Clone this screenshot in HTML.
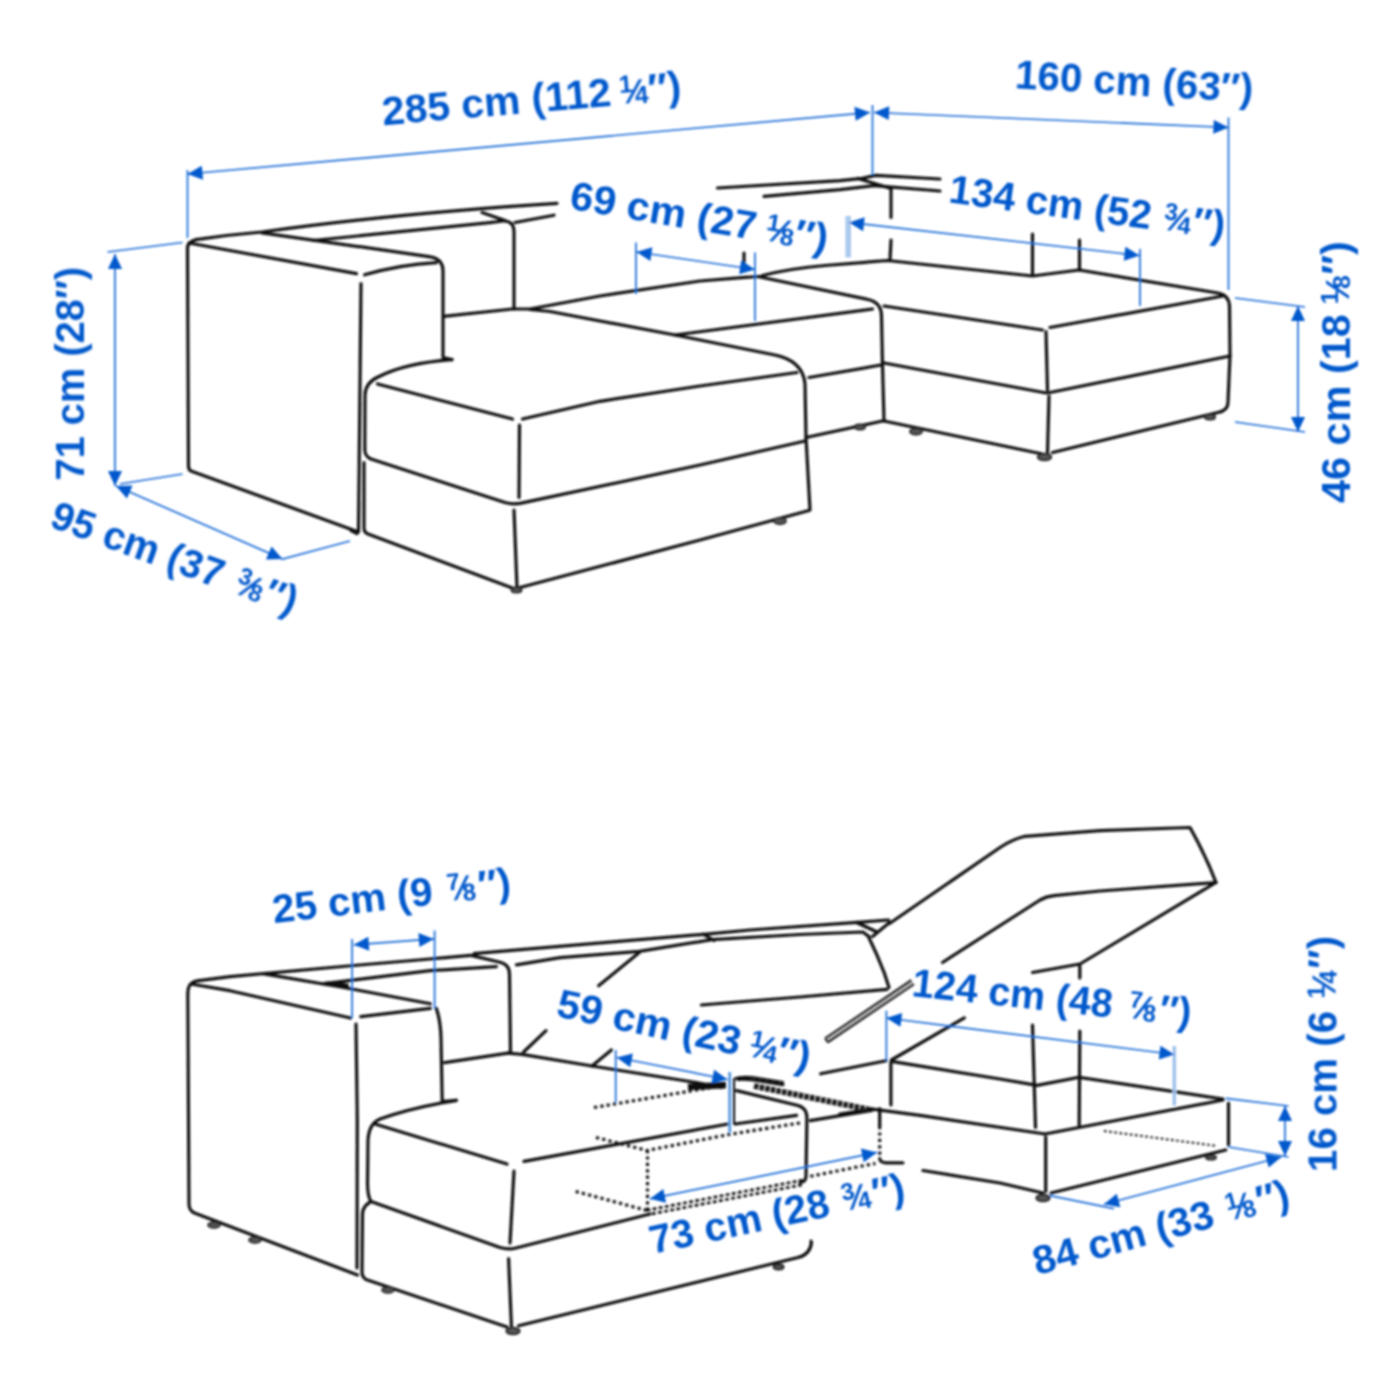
<!DOCTYPE html>
<html>
<head>
<meta charset="utf-8">
<title>Sofa dimensions</title>
<style>
html,body{margin:0;padding:0;background:#fff;}
body{width:1400px;height:1400px;overflow:hidden;}
svg{display:block;}
.k{fill:none;stroke:#111;stroke-width:3.2;stroke-linecap:round;stroke-linejoin:round;}
.kd{fill:none;stroke:#111;stroke-width:3.1;stroke-linecap:butt;stroke-dasharray:3.2 3.2;}
.kh{fill:none;stroke:#1a1a1a;stroke-width:5.8;stroke-linecap:butt;stroke-dasharray:4.6 1.1;}
.ft{fill:#555;stroke:#222;stroke-width:1.8;}
.b{fill:none;stroke:#1c6ad6;stroke-width:1.7;stroke-linecap:butt;}
.bl{fill:none;stroke:#9cc0ea;stroke-width:3.4;stroke-linecap:butt;}
.a{fill:#0058cc;stroke:none;}
text{font-family:"Liberation Sans",sans-serif;font-weight:bold;font-size:40px;fill:#0058cc;}
</style>
</head>
<body>
<svg width="1400" height="1400" viewBox="0 0 1400 1400">
<defs>
<filter id="soft" filterUnits="userSpaceOnUse" x="0" y="0" width="1400" height="1400"><feGaussianBlur stdDeviation="0.8"/></filter>
<path id="ah" d="M0,0 L15,-7 L15,7 Z"/>
</defs>
<rect width="1400" height="1400" fill="#fff"/>
<g filter="url(#soft)">

<!-- ================= TOP DRAWING : BLACK ================= -->
<g class="k" id="top-black">
<!-- arm outer panel -->
<path d="M361,283.5 L358.5,532 L191,471 Q188.5,470 188.5,466 L187.5,248 Q187.5,242 196,239.6 Q230,234.6 262,232 Q390,214 557,203.4"/>
<path d="M189,243 L356.5,273.6"/>
<path d="M357,533.5 L351,530.5"/>
<!-- arm top inner edge, corner and inner vertical -->
<path d="M262,232.8 L429,256.6 Q443,258.5 443,271 L443,357.5 L452,359.6"/>
<path d="M364.6,274.8 Q400,264.5 436.5,262.6"/>
<!-- back cushion 1 -->
<path d="M313,240.5 L490,222.6 L503,221 Q514,220.5 514,232 L514,309"/>
<path d="M482,212.6 L505,220.5"/>
<path d="M515,222.5 L554,215.2"/>
<!-- back cushion right part -->
<path d="M717.5,188 L840,180.6 L862,178.3 L876,175.4 L940,179"/>
<path d="M764,196.4 L840,189.6 L874,185.6 L940,191"/>
<path d="M858,178.5 L891,188.5"/>
<path d="M891,189 L891,217.5"/>
<path d="M891,240 L890,260"/>
<!-- seat / back junction and middle seat rear edge -->
<path d="M443.5,316.3 L512.5,309 L530,309 L600,296 L700,281 L745,277.3 L760,276.5"/>
<!-- chaise cushion top -->
<path d="M452,359.6 Q405,363 378,377 Q365.5,382.5 365,395 L364.8,450 Q365,456.5 371,459 L505,502.5 Q512,504.6 520,503.4 L700,465 L805,441"/>
<path d="M377.5,384 L512.5,419"/>
<path d="M522.5,419 L600,401.3 L700,386 L797,372.5"/>
<path d="M530,309.5 L550,311.5 L675,335 L775,355 Q803,361 805,384 L806,437.5 L810,510"/>
<path d="M519.5,425 L519,497.5"/>
<!-- chaise base -->
<path d="M364,462.5 L364,528 Q364,532.5 368,534 L515,589"/>
<path d="M520,587.5 L700,540 L809,510.5"/>
<path d="M514,510 L517,587.5"/>
<!-- middle seat -->
<path d="M675,335 L872.5,309"/>
<path d="M760,277 L868,299.5 Q881.5,302.5 881.5,316 L882.5,365 L884,421"/>
<path d="M809,377.5 L881,365"/>
<path d="M806,437.5 L882.5,421"/>
<!-- ottoman -->
<path d="M762.5,275.5 Q790,268.5 825,265.5 L887.5,260.5 L1032.5,276 L1079,270 L1218,293 Q1229,295 1229.5,306 L1230,355 L1228,402 Q1228,409.5 1221,411.5"/>
<path d="M1032.5,234 L1032.5,275"/>
<path d="M1079.5,240 L1079.5,270"/>
<path d="M884,306 L1042.5,330"/>
<path d="M1050,327.5 L1223,296"/>
<path d="M1046,331.5 L1047.5,390"/>
<path d="M1049,396 L1047.5,452.5"/>
<path d="M884,363 L1045,392.8 L1050,392.5 L1230,356"/>
<path d="M884,421 L1042.5,454"/>
<path d="M1052.5,452.5 L1222,411.5"/>
<path d="M744,253 L744,263"/>
</g>
<g class="ft">
<ellipse cx="516.5" cy="590" rx="5.1" ry="2.7"/>
<ellipse cx="780" cy="521" rx="6.0" ry="3.1"/>
<ellipse cx="860" cy="427" rx="5.1" ry="2.5"/>
<ellipse cx="916" cy="431.5" rx="6.0" ry="3.1"/>
<ellipse cx="1044.5" cy="457" rx="6.8" ry="3.4"/>
<ellipse cx="1210" cy="417" rx="5.1" ry="2.7"/>
</g>

<!-- ================= TOP DRAWING : BLUE ================= -->
<g id="top-blue">
<path class="b" d="M187.5,170 V238 M187.5,174 L870,112.5 M872.5,105 V175 M874,112.5 L1228.5,127.5 M1228.5,117.5 V290"/>
<path class="b" d="M636,242.5 V294 M755,252.5 V321 M636.5,252 L755,269.5"/>
<path class="b" d="M1140,249 V306 M849,222.5 L1139.5,255.5"/>
<path class="bl" d="M848.2,216 V257.5" style="stroke:#a8c8ee;stroke-width:5.5"/>
<path class="b" d="M1235,298 L1305,307 M1235,422 L1305,432 M1298,306 V432"/>
<path class="b" d="M107.5,252 L182.5,242.5 M120,484 L182.5,474 M115,254 V486"/>
<path class="b" d="M116,486 L282.5,559 L350,541"/>
</g>
<g class="a" id="top-arrows">
<use href="#ah" transform="translate(187.5,174) rotate(-5.15)"/>
<use href="#ah" transform="translate(870,112.5) rotate(174.85)"/>
<use href="#ah" transform="translate(874,112.5) rotate(2.4)"/>
<use href="#ah" transform="translate(1228.5,127.5) rotate(182.4)"/>
<use href="#ah" transform="translate(636.5,252) rotate(8.4)"/>
<use href="#ah" transform="translate(755,269.5) rotate(188.4)"/>
<use href="#ah" transform="translate(849,222.5) rotate(6.5)"/>
<use href="#ah" transform="translate(1139.5,255.5) rotate(186.5)"/>
<use href="#ah" transform="translate(1298,306) rotate(90)"/>
<use href="#ah" transform="translate(1298,432) rotate(-90)"/>
<use href="#ah" transform="translate(115,254) rotate(90)"/>
<use href="#ah" transform="translate(115,486) rotate(-90)"/>
<use href="#ah" transform="translate(116,486) rotate(23.7)"/>
<use href="#ah" transform="translate(282.5,559) rotate(203.7)"/>
</g>

<!-- ================= BOTTOM DRAWING : BLACK ================= -->
<g class="k" id="bot-black">
<!-- arm outer panel -->
<path d="M357,1268 L357.3,1120 L356,1024"/>
<path d="M470.5,955.4 L430,959 L348,966 L230,976.6 L197,980.8 Q188,982.5 187.8,993 L189,1204 Q189,1210.5 194.5,1213 L357.5,1275"/>
<path d="M191,984 L230,990.7 L350.5,1018"/>
<path d="M264,973.8 L341,987 L430.4,1003.8"/>
<path d="M324,983.6 L430,970.7 L496.4,966.6"/>
<path d="M327,983.6 L347,985.5" style="stroke-width:4"/>
<path d="M360.8,1016.7 L430.4,1008.4"/>
<path d="M436.3,1008.4 Q440.5,1020 441,1038 L442.2,1101.5 L456.3,1100.3"/>
<path d="M444.5,1062.6 L508,1053.2"/>
<!-- back cushion 1 (arm side) -->
<path d="M472,955.6 L499,962 Q509.4,964 509.5,974 L510.5,1052"/>
<path d="M474,953.6 L500,951.4 L703.6,934.3 L750,930 L857,922.3 L888.6,920"/>
<path d="M516.4,964.8 L560,957.7 L639.3,951.4 L712,939.6 L800,934.5 L862.9,932 L869,936.6"/>
<path d="M703.6,934.3 L714,940.5"/>
<!-- raised cushion corner -->
<path d="M857,922.6 L876,931.5" style="stroke-width:3.4"/>
<path d="M889.5,922.5 L872.5,936.6"/>
<path d="M868.6,937 Q877,954 884.3,973 L889,987.5"/>
<path d="M701.4,1005 L750,1001 L800,997 L887,989.3"/>
<!-- diagonals of folded back -->
<path d="M639.3,952.5 L598.6,985.7"/>
<path d="M546,1030.7 L523.6,1052"/>
<path d="M611.4,1050 L592,1066"/>
<!-- seat rear edge -->
<path d="M508,1053.2 L522,1054.4 L592,1066 L693,1082 L722,1087.5"/>
<!-- chaise cushion -->
<path d="M456.3,1100.3 Q410,1108 380,1119 Q369,1123.5 368,1140 L367.5,1183 Q367.5,1196 371,1201.5 L500,1247.5 Q508,1250 516,1248 L650,1214"/>
<path d="M375,1124 L507,1164"/>
<path d="M524,1161.4 L728,1124"/>
<path d="M735,1124 L796.6,1115.4"/>
<path d="M514,1171 L510,1243"/>
<!-- base -->
<path d="M369.5,1202.5 Q362.6,1206.5 362.5,1214 L362,1272 Q362,1277 366,1279.5 L507,1327"/>
<path d="M508.6,1258.6 L511.4,1325.7"/>
<path d="M518.6,1325.7 L798,1257.5 Q810,1254.5 811.4,1243"/>
<!-- hinge hardware / chaise right edge -->
<path d="M734,1124 L734,1079 Q740,1076 752,1077.2 L783,1082" style="stroke-width:2.2"/>
<path d="M738,1079.5 Q748,1078.6 760,1081 L783,1084.6" style="stroke-width:3.2"/>
<path d="M736.6,1090.6 L797,1105.3 Q806.9,1107.5 806.9,1118 L806,1176 Q806,1182 800,1182.5"/>
<path d="M810.3,1120.6 L872,1110.3"/>
<path d="M840,1114.5 L872,1109.6" style="stroke-width:4"/>
<path d="M868.6,1108.6 L920,1115.4 L1045,1134"/>
<path d="M879.7,1108.6 L879.7,1125.7"/>
<path d="M879.7,1158.5 Q880,1162.5 886,1162.8 L902.9,1162.8"/>
<path d="M923,1170.5 L1000,1183 L1043,1193"/>
<path d="M811,1241 L811.4,1243"/>
<!-- storage box -->
<path d="M820.6,1073.8 L886,1060.7"/>
<path d="M891.4,1061.4 L1000,1079 L1037,1085.4 L1079,1077.3 L1223,1099"/>
<path d="M1045,1134 L1223,1100"/>
<path d="M890.9,1062.5 L890.9,1105"/>
<path d="M1228.5,1103 L1228.5,1145"/>
<path d="M1045.7,1137 L1045.7,1191.4"/>
<path d="M1051,1193 L1225.7,1150"/>
<path d="M1032.5,1025 L1035.5,1127.5"/>
<path d="M1079.8,1031 L1079.2,1125.5"/>
<path d="M1079.8,966 L1079.8,978"/>
<!-- lid -->
<path d="M889.5,923.5 L1000,847.5 Q1012,839.5 1025,836.3 L1100,830.6 L1190,827.5 Q1206,856 1216,882.5"/>
<path d="M942.5,962.5 L1040,900 Q1046,896.5 1054,895.6 L1100,891 L1216,882.5 L1080,964 L1032.5,972.5"/>
<path d="M891.4,1060 L964.3,1017.9"/>
</g>
<!-- hatched bands -->
<g id="bot-hatch">
<path d="M826.5,1040.3 L912.7,982.2" style="fill:none;stroke:#444;stroke-width:3.2;stroke-dasharray:1.3 1.7"/>
<path d="M825.1,1038.2 L911.3,980.1 M827.9,1042.4 L914.1,984.3 M825.1,1038.2 L827.9,1042.4" style="fill:none;stroke:#1a1a1a;stroke-width:1.9;stroke-linecap:butt"/>
<path class="kh" d="M754,1086 L868.6,1109.5"/>
<path class="k" d="M688,1087 L726,1085" style="stroke-width:6.5;stroke-linecap:butt"/>
</g>
<!-- dotted lines -->
<g id="bot-dots">
<path class="kd" d="M594,1107.5 L720,1086"/>
<path class="kd" d="M596,1137.5 L647,1150.5 L729.7,1134.3 L800,1123"/>
<path class="kd" d="M647.5,1150 L647.5,1212"/>
<path class="kd" d="M575.7,1191.4 L647,1210.5"/>
<path class="kd" d="M646.6,1210.3 L803,1180.1" style="stroke-width:2.7;stroke-dasharray:3.8 2.4"/>
<path class="kd" d="M647.4,1214.7 L803.8,1184.5" style="stroke-width:2.7;stroke-dasharray:3.8 2.4;stroke-dashoffset:1.5"/>
<path class="kd" d="M810.3,1176.3 L875.4,1163.4"/>
<path class="kd" d="M879.7,1126 L879.7,1158"/>
<path class="kd" d="M1104,1131 L1217.5,1146" style="stroke-width:2;stroke-dasharray:2.6 2.6"/>
<path class="kd" d="M734,1082 L734,1124" style="stroke-width:1.6;stroke-dasharray:5 2"/>
</g>
<g class="ft">
<ellipse cx="214" cy="1225" rx="6.0" ry="2.9"/>
<ellipse cx="255" cy="1240" rx="6.0" ry="2.9"/>
<ellipse cx="388" cy="1290" rx="6.0" ry="2.9"/>
<ellipse cx="513" cy="1331" rx="6.8" ry="3.4"/>
<ellipse cx="778.6" cy="1267" rx="5.1" ry="2.5"/>
<ellipse cx="1043" cy="1198" rx="6.8" ry="3.4"/>
<ellipse cx="1211" cy="1157.5" rx="5.1" ry="2.2"/>
</g>

<!-- ================= BOTTOM DRAWING : BLUE ================= -->
<g id="bot-blue">
<path class="b" d="M352.1,939 V1018 M434.6,930.6 V1008.4 M353.8,944.8 L433.9,938.9"/>
<path class="b" d="M615.7,1050 V1102.5 M616.8,1057.5 L727.5,1079.5"/>
<path class="bl" d="M729.7,1072 V1132.6" style="stroke:#5d9be0;stroke-width:3"/>
<path class="b" d="M650,1198.8 L877,1152.4"/>
<path class="b" d="M886.4,1010.7 V1060.7 M886.4,1018 L1174.5,1054.5"/>
<path class="bl" d="M1174.3,1046 V1105.5"/>
<path class="b" d="M1225.7,1098.3 L1288.6,1106 M1228.6,1147 L1288.6,1157 M1285,1106 V1156"/>
<path class="b" d="M1050,1195.7 L1114,1208.6 M1104,1204.3 L1281.4,1157"/>
</g>
<g class="a" id="bot-arrows">
<use href="#ah" transform="translate(353.8,944.8) rotate(-4.2)"/>
<use href="#ah" transform="translate(433.9,938.9) rotate(175.8)"/>
<use href="#ah" transform="translate(616.8,1057.5) rotate(11.2)"/>
<use href="#ah" transform="translate(727.5,1079.5) rotate(191.2)"/>
<use href="#ah" transform="translate(650,1198.8) rotate(-11.5)"/>
<use href="#ah" transform="translate(877,1152.4) rotate(168.5)"/>
<use href="#ah" transform="translate(886.4,1018) rotate(7.2)"/>
<use href="#ah" transform="translate(1174.5,1054.5) rotate(187.2)"/>
<use href="#ah" transform="translate(1285,1106) rotate(90)"/>
<use href="#ah" transform="translate(1285,1156) rotate(-90)"/>
<use href="#ah" transform="translate(1104,1204.3) rotate(-14.9)"/>
<use href="#ah" transform="translate(1281.4,1157) rotate(165.1)"/>
</g>
<g id="all-text">
<text transform="translate(383.2,125.4) rotate(-4.9) scale(1.0227,1)">285 cm (112 <tspan font-size="24" dy="-12" dx="-2.6">1</tspan><tspan font-size="34" dy="10.5" dx="-2.2">⁄</tspan><tspan font-size="24" dy="1.5" dx="-2.2">4</tspan><tspan dx="-0.1">″)</tspan></text>
<text transform="translate(1014.5,88.2) rotate(3.5) scale(1.0060,1)">160 cm (63″)</text>
<text transform="translate(568.5,208.5) rotate(9.6) scale(1.0330,1)">69 cm (27 <tspan font-size="24" dy="-12" dx="-1.6">1</tspan><tspan font-size="34" dy="10.5" dx="-2.2">⁄</tspan><tspan font-size="24" dy="1.5" dx="-2.2">8</tspan><tspan dx="0.3">″)</tspan></text>
<text transform="translate(947.7,202.3) rotate(7.6) scale(0.9969,1)">134 cm (52 <tspan font-size="24" dy="-12" dx="1.3">3</tspan><tspan font-size="34" dy="10.5" dx="-2.2">⁄</tspan><tspan font-size="24" dy="1.5" dx="-2.2">4</tspan><tspan dx="1.6">″)</tspan></text>
<text transform="translate(1350.0,503.0) rotate(-90) scale(1.0364,1)">46 cm (18 <tspan font-size="24" dy="-12" dx="-1.5">1</tspan><tspan font-size="34" dy="10.5" dx="-2.2">⁄</tspan><tspan font-size="24" dy="1.5" dx="-2.2">8</tspan><tspan dx="0.4">″)</tspan></text>
<text transform="translate(84.0,480.6) rotate(-90) scale(0.9953,1)">71 cm (28″)</text>
<text transform="translate(48.1,526.5) rotate(20) scale(0.9927,1)">95 cm (37 <tspan font-size="24" dy="-12" dx="4.4">3</tspan><tspan font-size="34" dy="10.5" dx="-2.2">⁄</tspan><tspan font-size="24" dy="1.5" dx="-2.2">8</tspan><tspan dx="2.9">″)</tspan></text>
<text transform="translate(274.0,923.2) rotate(-6.7) scale(1.0073,1)">25 cm (9 <tspan font-size="24" dy="-12" dx="3.7">7</tspan><tspan font-size="34" dy="10.5" dx="-2.2">⁄</tspan><tspan font-size="24" dy="1.5" dx="-2.2">8</tspan><tspan dx="2.6">″)</tspan></text>
<text transform="translate(555.0,1015.9) rotate(12.2) scale(1.0264,1)">59 cm (23 <tspan font-size="24" dy="-12" dx="-2.0">1</tspan><tspan font-size="34" dy="10.5" dx="-2.2">⁄</tspan><tspan font-size="24" dy="1.5" dx="-2.2">4</tspan><tspan dx="0.1">″)</tspan></text>
<text transform="translate(652.5,1254.1) rotate(-12.1) scale(1.0046,1)">73 cm (28 <tspan font-size="24" dy="-12" dx="2.9">3</tspan><tspan font-size="34" dy="10.5" dx="-2.2">⁄</tspan><tspan font-size="24" dy="1.5" dx="-2.2">4</tspan><tspan dx="2.2">″)</tspan></text>
<text transform="translate(911.1,995.9) rotate(6.15) scale(0.9846,1)">124 cm (48 <tspan font-size="24" dy="-12" dx="5.5">7</tspan><tspan font-size="34" dy="10.5" dx="-2.2">⁄</tspan><tspan font-size="24" dy="1.5" dx="-2.2">8</tspan><tspan dx="3.4">″)</tspan></text>
<text transform="translate(1336.5,1172.0) rotate(-90) scale(1.0065,1)">16 cm (6 <tspan font-size="24" dy="-12" dx="1.3">1</tspan><tspan font-size="34" dy="10.5" dx="-2.2">⁄</tspan><tspan font-size="24" dy="1.5" dx="-2.2">4</tspan><tspan dx="1.6">″)</tspan></text>
<text transform="translate(1037.0,1275.3) rotate(-15.3) scale(1.0200,1)">84 cm (33 <tspan font-size="24" dy="-12" dx="3.0">1</tspan><tspan font-size="34" dy="10.5" dx="-2.2">⁄</tspan><tspan font-size="24" dy="1.5" dx="-2.2">8</tspan><tspan dx="2.3">″)</tspan></text>
</g>

</g>
</svg>
</body>
</html>
